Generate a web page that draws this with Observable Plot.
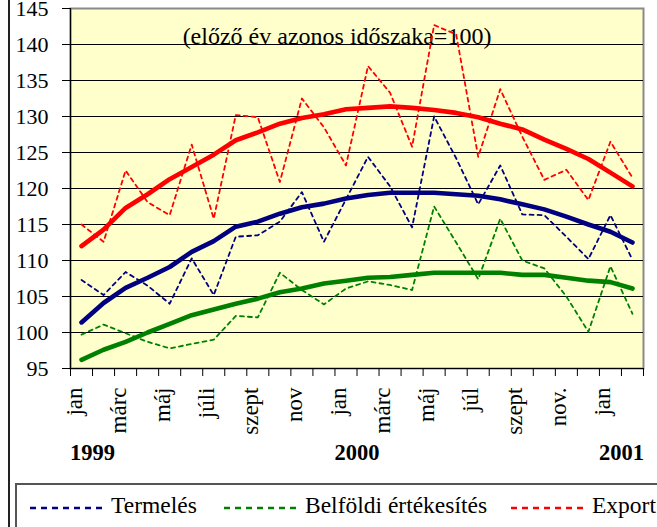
<!DOCTYPE html>
<html>
<head>
<meta charset="utf-8">
<script src="https://cdn.jsdelivr.net/npm/d3@7"></script>
<script src="https://cdn.jsdelivr.net/npm/@observablehq/plot@0.6"></script>
<style>
  html, body { margin: 0; padding: 0; background: #fff; }
  #wrap { position: relative; width: 657px; height: 527px; overflow: hidden; font-family: 'Liberation Serif', Tinos, 'Times New Roman', 'DejaVu Serif', serif; color: #000; }
  #wrap svg text { font-family: 'Liberation Serif', Tinos, 'Times New Roman', 'DejaVu Serif', serif; }
  #leftline { position: absolute; left: 8px; top: 0; width: 2px; height: 527px; background: #222; }
  #chart { position: absolute; left: 0; top: 0; }
  #legend { position: absolute; left: 15px; top: 483px; width: 700px; height: 60px; border: 2px solid #555; box-sizing: border-box; }
  .item { position: absolute; top: 7px; font-size: 23.5px; line-height: 27px; white-space: nowrap; }
  .item svg { position: absolute; top: 14px; }
</style>
</head>
<body>
<div id="wrap">
  <div id="chart"></div>
  <div id="leftline"></div>
  <div id="legend"></div>
</div>
<script>
// Categories (Jan 1999 – Feb 2001)
const months = ["jan","febr","márc","ápr","máj","jún","júli","aug","szept","okt","nov","dec",
                "jan","febr","márc","ápr","máj","jún","júl","aug","szept","okt","nov.","dec",
                "jan","febr"];
const years = ["1999","2000","2001"];
const yTicks = [95,100,105,110,115,120,125,130,135,140,145];

// Monthly indices (dashed)
const termeles = [107.3,105.2,108.4,106.5,104.0,110.3,105.2,113.3,113.5,115.4,119.5,112.6,
                  118.5,124.4,120.3,114.6,130.0,124.2,117.8,123.2,116.4,116.3,113.3,110.2,116.3,110.1];
const belfoldi = [99.7,101.1,99.9,98.7,97.8,98.4,99.0,102.3,102.1,108.3,105.9,103.9,
                  106.1,107.1,106.6,105.9,117.5,112.5,107.4,115.8,110.0,108.9,105.0,100.1,109.2,102.6];
const exportData = [115.0,112.6,122.5,118.1,116.3,126.1,115.8,130.2,129.9,120.9,132.5,128.5,
                  123.2,137.0,133.3,125.8,142.7,141.4,124.4,133.8,127.2,121.2,122.6,118.4,126.5,121.5];

// Trends (solid)
const termelesTrend = [101.4,104.1,106.2,107.6,109.1,111.2,112.7,114.7,115.4,116.5,117.4,117.9,
                  118.6,119.1,119.4,119.4,119.4,119.2,119.0,118.5,117.8,117.1,116.1,115.0,114.0,112.5];
const belfoldiTrend = [96.2,97.6,98.7,100.0,101.2,102.4,103.2,104.0,104.7,105.6,106.1,106.8,
                  107.2,107.6,107.7,108.0,108.3,108.3,108.3,108.3,108.0,108.0,107.6,107.2,107.0,106.1];
const exportTrend = [112.0,114.3,117.3,119.2,121.3,123.0,124.7,126.7,127.8,129.0,129.8,130.3,
                  131.0,131.2,131.4,131.2,130.9,130.5,129.9,129.0,128.2,126.8,125.5,124.1,122.2,120.3];

const seriesNames = ["Termelés","Belföldi értékesítés","Export"];
const colors = ["#000080","#008000","#ff0000"];

const rows = arr => months.map((m, i) => ({i, month: m, v: arr[i]}));
const labelRows = months.map((m, i) => ({i, m})).filter(d => d.i % 2 === 0);
const yearRows = months.map((m, i) => ({i, m})).filter(d => d.m === "jan").map((d, k) => ({i: d.i, year: years[k]}));

const FONT = "'Liberation Serif', Tinos, 'Times New Roman', 'DejaVu Serif', serif";
const dashed = {strokeWidth: 1.8, strokeDasharray: "4,4"};
const solid = {strokeWidth: 4.6, strokeLinejoin: "round", strokeLinecap: "round"};

const plot = Plot.plot({
  width: 657,
  height: 483,
  marginTop: 8,
  marginBottom: 115,
  marginLeft: 70,
  marginRight: 14,
  style: {fontFamily: FONT, fontSize: "22px", color: "#000", background: "transparent", overflow: "visible"},
  x: {type: "linear", domain: [-0.5, months.length - 0.5]},
  y: {domain: [95, 145]},
  marks: [
    Plot.frame({fill: "#ffffcc", stroke: "#8a8a8a", strokeWidth: 2}),
    Plot.ruleY(yTicks.filter(t => t > 95 && t < 145), {stroke: "#000", strokeWidth: 1}),
    Plot.ruleY([95], {stroke: "#000", strokeWidth: 1.2}),
    Plot.ruleX([-0.5], {stroke: "#000", strokeWidth: 1.2}),
    Plot.axisY({ticks: yTicks, tickSize: 8, tickPadding: 14, fontSize: 22, label: null, tickFormat: d => String(d), fontFamily: FONT}),
    Plot.axisX({ticks: d3.range(-0.5, months.length, 1), tickSize: 8, label: null, tickFormat: () => ""}),
    Plot.text(labelRows, {x: "i", text: "m", frameAnchor: "bottom", rotate: -90, textAnchor: "end", dy: 19, fontSize: 23, fontFamily: FONT}),
    Plot.text(yearRows, {x: "i", text: "year", frameAnchor: "bottom", dx: 11, dy: 91, fontSize: 22.5, fontWeight: "bold", fontFamily: FONT}),
    Plot.text(["(előző év azonos időszaka=100)"], {frameAnchor: "top", dx: -20, dy: 18, fontSize: 24, fontFamily: FONT}),
    Plot.line(rows(termeles), {x: "i", y: "v", stroke: colors[0], ...dashed}),
    Plot.line(rows(belfoldi), {x: "i", y: "v", stroke: colors[1], ...dashed}),
    Plot.line(rows(exportData), {x: "i", y: "v", stroke: colors[2], ...dashed}),
    Plot.line(rows(termelesTrend), {x: "i", y: "v", stroke: colors[0], ...solid}),
    Plot.line(rows(belfoldiTrend), {x: "i", y: "v", stroke: colors[1], ...solid}),
    Plot.line(rows(exportTrend), {x: "i", y: "v", stroke: colors[2], ...solid})
  ]
});
document.getElementById("chart").appendChild(plot);

// Legend
const legend = document.getElementById("legend");
const legendLeft = [13, 207, 494];
seriesNames.forEach((name, k) => {
  const item = document.createElement("div");
  item.className = "item";
  item.style.left = legendLeft[k] + "px";
  item.innerHTML = `<svg width="76" height="4"><line x1="0" y1="2" x2="76" y2="2" stroke="${colors[k]}" stroke-width="2.5" stroke-dasharray="6,5"/></svg><span style="margin-left:81px">${name}</span>`;
  legend.appendChild(item);
});
</script>
</body>
</html>
